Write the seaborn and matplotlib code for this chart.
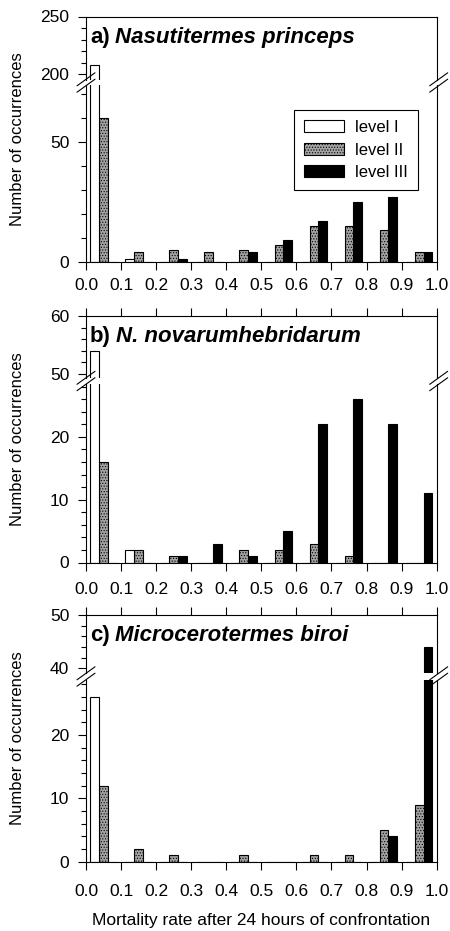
import numpy as np
import pandas as pd
import matplotlib
matplotlib.use("Agg")
import matplotlib.pyplot as plt
from matplotlib.lines import Line2D
from matplotlib.patches import Patch
from matplotlib.ticker import FixedLocator, MultipleLocator
import seaborn as sns

# ---------------------------------------------------------------- data
bin_edges = [0.0, 0.1, 0.2, 0.3, 0.4, 0.5, 0.6, 0.7, 0.8, 0.9, 1.0]
bin_centres = [0.05, 0.15, 0.25, 0.35, 0.45, 0.55, 0.65, 0.75, 0.85, 0.95]
levels = ["level I", "level II", "level III"]
x_ticks = [0.0, 0.1, 0.2, 0.3, 0.4, 0.5, 0.6, 0.7, 0.8, 0.9, 1.0]
x_tick_labels = ["0.0", "0.1", "0.2", "0.3", "0.4", "0.5",
                 "0.6", "0.7", "0.8", "0.9", "1.0"]

# number of occurrences per mortality class, for each level
nasuti_I = [208, 1, 0, 0, 0, 0, 0, 0, 0, 0]
nasuti_II = [60, 4, 5, 4, 5, 7, 15, 15, 13, 4]
nasuti_III = [0, 0, 1, 0, 4, 9, 17, 25, 27, 4]

novarum_I = [54, 2, 0, 0, 0, 0, 0, 0, 0, 0]
novarum_II = [16, 2, 1, 0, 2, 2, 3, 1, 0, 0]
novarum_III = [0, 0, 1, 3, 1, 5, 22, 26, 22, 11]

micro_I = [26, 0, 0, 0, 0, 0, 0, 0, 0, 0]
micro_II = [12, 2, 1, 0, 1, 0, 1, 1, 5, 9]
micro_III = [0, 0, 0, 0, 0, 0, 0, 0, 4, 44]

panel_tags = ["a)", "b)", "c)"]
species = ["Nasutitermes princeps", "N. novarumhebridarum",
           "Microcerotermes biroi"]
counts = [(nasuti_I, nasuti_II, nasuti_III),
          (novarum_I, novarum_II, novarum_III),
          (micro_I, micro_II, micro_III)]

# broken y axis: (upper range, lower range, upper labels, lower labels, minor step)
upper_ranges = [(194.8, 250), (49.3, 60), (39.1, 50)]
lower_ranges = [(0, 73.6), (0, 28.4), (0, 28.7)]
upper_labels = [[200, 250], [50, 60], [40, 50]]
lower_labels = [[0, 50], [0, 10, 20], [0, 10, 20]]
minor_steps = [10, 2, 2]

# ---------------------------------------------------------------- style
sns.set_style("ticks")
plt.rcParams["font.family"] = ["Liberation Sans", "DejaVu Sans"]
plt.rcParams.update({
    "text.color": "black", "axes.labelcolor": "black",
    "xtick.color": "black", "ytick.color": "black",
    "axes.edgecolor": "black", "hatch.linewidth": 0.5,
})
palette = {"level I": "white", "level II": "#a2a2a2", "level III": "black"}
stipple = "......"

W, H = 450, 931
fig = plt.figure(figsize=(W / 100, H / 100), dpi=100)

# layout in pixels (top-origin): left/right, and per panel upper/lower bands
X0, X1 = 86.0, 436.7
bands = [((16.5, 80.0), (85.0, 261.7)),
         ((316.0, 378.0), (384.0, 562.5)),
         ((615.0, 673.0), (680.0, 861.7))]
xlabel_pads = [6, 8, 10]


def rect(top, bottom):
    return [X0 / W, 1 - bottom / H, (X1 - X0) / W, (bottom - top) / H]


def px_line(x_a, y_a, x_b, y_b):
    fig.add_artist(Line2D([x_a / W, x_b / W], [1 - y_a / H, 1 - y_b / H],
                          transform=fig.transFigure, color="black", lw=0.8))


for i in range(3):
    (ut, ub), (lt, lb) = bands[i]
    ax_u = fig.add_axes(rect(ut, ub))
    ax_l = fig.add_axes(rect(lt, lb))
    lv1, lv2, lv3 = counts[i]
    df = pd.DataFrame({
        "mortality": bin_centres * 3,
        "count": list(lv1) + list(lv2) + list(lv3),
        "level": [levels[0]] * 10 + [levels[1]] * 10 + [levels[2]] * 10,
    })
    for ax in (ax_u, ax_l):
        sns.histplot(data=df, x="mortality", weights="count", hue="level",
                     hue_order=levels, bins=bin_edges, multiple="dodge",
                     shrink=0.75, palette=palette, alpha=1, edgecolor="black",
                     linewidth=0.8, legend=False, ax=ax)
        for p in ax.patches:
            fc = p.get_facecolor()
            if 0.3 < fc[0] < 0.9:
                p.set_hatch(stipple)
        ax.set_xlim(0, 1)
        ax.set_xlabel("")
        ax.set_ylabel("")
        for s in ax.spines.values():
            s.set_linewidth(0.8)
            s.set_visible(True)
        ax.yaxis.set_minor_locator(MultipleLocator(minor_steps[i]))
        ax.tick_params(axis="y", which="major", direction="out", length=6,
                       width=0.8, pad=6, labelsize=12.5, left=True, right=False)
        ax.tick_params(axis="y", which="minor", direction="out", length=3.5,
                       width=0.8, left=True, right=False)
        ax.set_xticks(x_ticks)

    ax_u.set_ylim(*upper_ranges[i])
    ax_l.set_ylim(*lower_ranges[i])
    ax_u.yaxis.set_major_locator(FixedLocator(upper_labels[i]))
    ax_l.yaxis.set_major_locator(FixedLocator(lower_labels[i]))
    ax_u.spines["bottom"].set_visible(False)
    ax_l.spines["top"].set_visible(False)

    ax_l.set_xticklabels(x_tick_labels)
    ax_l.tick_params(axis="x", direction="out", length=6, width=0.8,
                     pad=xlabel_pads[i], labelsize=12.5, bottom=True, top=False)
    ax_u.tick_params(axis="x", direction="out", length=6, width=0.8,
                     bottom=False, labelbottom=False, top=(i > 0),
                     labeltop=False)

    # panel heading: bold tag followed by bold italic species name
    tag = ax_u.annotate(panel_tags[i], xy=(0, 1), xycoords="axes fraction",
                        xytext=(4, -26), textcoords="offset pixels",
                        ha="left", va="baseline", fontsize=16,
                        fontweight="bold")
    ax_u.annotate(species[i], xy=(1, 0), xycoords=tag, xytext=(5, 0),
                  textcoords="offset pixels", ha="left", va="bottom",
                  fontsize=16, fontweight="bold", fontstyle="italic")

    # break marks on both vertical spines
    yc = (ub + lt) / 2
    for xc in (X0, X1 + 2):
        for off in (-3.2, 3.2):
            px_line(xc - 9, yc + off + 6.5, xc + 9, yc + off - 6.5)

    fig.text(18 / W, 1 - ((ut + lb) / 2) / H, "Number of occurrences",
             rotation=90, ha="center", va="center", fontsize=12)

    if i == 0:
        handles = [Patch(facecolor=palette[lv], edgecolor="black",
                         linewidth=0.8,
                         hatch=(stipple if lv == "level II" else None))
                   for lv in levels]
        leg = ax_l.legend(handles, levels, loc="upper right",
                          bbox_to_anchor=(0.9475, 0.8585), borderaxespad=0,
                          fontsize=12, frameon=True, fancybox=False,
                          edgecolor="black", framealpha=1, handlelength=2.4,
                          handleheight=0.75, handletextpad=0.7,
                          labelspacing=0.45, borderpad=0.6)
        leg.get_frame().set_linewidth(0.8)

fig.text(261.5 / W, 1 - 921 / H, "Mortality rate after 24 hours of confrontation",
         ha="center", va="center", fontsize=12.5)

fig.savefig("out.png", dpi=100)
